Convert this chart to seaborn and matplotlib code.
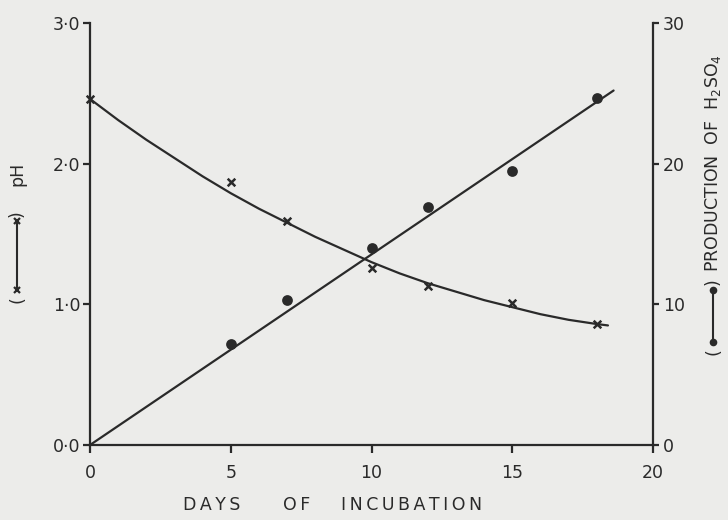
import matplotlib
matplotlib.use("Agg")
import matplotlib.pyplot as plt
import seaborn as sns
import pandas as pd
from matplotlib.lines import Line2D

# Measured points
days_ph = [0, 5, 7, 10, 12, 15, 18]
ph_values = [2.46, 1.87, 1.59, 1.26, 1.13, 1.01, 0.86]
days_acid = [5, 7, 10, 12, 15, 18]
acid_values = [7.2, 10.3, 14.0, 16.9, 19.5, 24.7]

# Hand-drawn trend lines
curve_days_ph = [0, 1, 2, 3, 4, 5, 6, 7, 8, 9, 10, 11, 12, 13, 14, 15,
                 16, 17, 18, 18.4]
curve_ph = [2.46, 2.31, 2.17, 2.04, 1.91, 1.79, 1.68, 1.58, 1.48, 1.39,
            1.30, 1.22, 1.15, 1.09, 1.03, 0.98, 0.93, 0.89, 0.86, 0.85]
line_days_acid = [0, 18.6]
line_acid = [0, 25.2]

# Axis ticks
x_ticks = [0, 5, 10, 15, 20]
x_tick_labels = ["0", "5", "10", "15", "20"]
ph_ticks = [0, 1, 2, 3]
ph_tick_labels = ["0·0", "1·0", "2·0", "3·0"]
acid_ticks = [0, 10, 20, 30]
acid_tick_labels = ["0", "10", "20", "30"]

INK = "#2a2a2a"
PAPER = "#ececea"
W, H = 728, 520

sns.set_theme(style="ticks")
plt.rcParams["font.family"] = ["DejaVu Sans"]
plt.rcParams["text.color"] = INK
plt.rcParams["axes.edgecolor"] = INK
plt.rcParams["xtick.color"] = INK
plt.rcParams["ytick.color"] = INK


def fx(px):
    return px / W


def fy(py):
    return 1 - py / H


fig = plt.figure(figsize=(W / 100, H / 100), dpi=100, facecolor=PAPER)
left, right, top, bottom = 90, 653, 23, 445
ax = fig.add_axes([fx(left), fy(bottom), (right - left) / W, (bottom - top) / H])
ax.set_facecolor(PAPER)
ax2 = ax.twinx()
ax2.patch.set_visible(False)

ph_curve = pd.DataFrame({"day": curve_days_ph, "ph": curve_ph})
ph_pts = pd.DataFrame({"day": days_ph, "ph": ph_values})
acid_line = pd.DataFrame({"day": line_days_acid, "acid": line_acid})
acid_pts = pd.DataFrame({"day": days_acid, "acid": acid_values})

sns.lineplot(data=ph_curve, x="day", y="ph", ax=ax, color=INK, lw=1.6,
             sort=False, estimator=None)
sns.scatterplot(data=ph_pts, x="day", y="ph", ax=ax, marker="x", s=30,
                color=INK, linewidth=1.8, clip_on=False, zorder=4)
sns.lineplot(data=acid_line, x="day", y="acid", ax=ax2, color=INK, lw=1.6,
             sort=False, estimator=None)
sns.scatterplot(data=acid_pts, x="day", y="acid", ax=ax2, marker="o", s=60,
                color=INK, edgecolor=INK, linewidth=0, zorder=4)

ax.set_xlim(0, 20)
ax.set_ylim(0, 3)
ax2.set_ylim(0, 30)

ax.set_xticks(x_ticks)
ax.set_xticklabels(x_tick_labels)
ax.set_yticks(ph_ticks)
ax.set_yticklabels(ph_tick_labels)
ax2.set_yticks(acid_ticks)
ax2.set_yticklabels(acid_tick_labels)

ax.set_xlabel("")
ax.set_ylabel("")
ax2.set_ylabel("")

for a in (ax, ax2):
    for s in a.spines.values():
        s.set_linewidth(1.6)
        s.set_color(INK)
    a.spines["top"].set_visible(False)
ax.spines["right"].set_visible(False)
ax2.spines["left"].set_visible(False)
ax2.spines["bottom"].set_visible(False)

ax.tick_params(axis="x", direction="out", length=6, width=1.6, pad=8,
               labelsize=12.5)
ax.tick_params(axis="y", direction="out", length=5, width=1.6, pad=2,
               labelsize=12.5)
ax2.tick_params(axis="y", direction="out", length=4, width=1.6, pad=3,
                labelsize=12.5)

# x-axis title, letter-spaced words
ts = "\u2009"
fig.text(fx(212), fy(505), ts.join("DAYS"), ha="center", va="center",
         fontsize=12.5)
fig.text(fx(297), fy(505), ts.join("OF"), ha="center", va="center",
         fontsize=12.5)
fig.text(fx(412), fy(505), ts.join("INCUBATION"), ha="center", va="center",
         fontsize=12.5)

# left axis title with its key symbol
lx = 17
fig.text(fx(lx), fy(300), "(", rotation=90, ha="center", va="center",
         fontsize=12.5)
fig.text(fx(lx), fy(214), ")", rotation=90, ha="center", va="center",
         fontsize=12.5)
fig.add_artist(Line2D([fx(lx), fx(lx)], [fy(290), fy(221)],
                      transform=fig.transFigure, color=INK, lw=1.5,
                      marker="x", markersize=4.5, mew=1.6))
fig.text(fx(lx), fy(174), "pH", rotation=90, ha="center", va="center",
         fontsize=12.5)

# right axis title with its key symbol
rx = 713
fig.text(fx(rx), fy(352), "(", rotation=90, ha="center", va="center",
         fontsize=12.5)
fig.add_artist(Line2D([fx(rx), fx(rx)], [fy(342), fy(290)],
                      transform=fig.transFigure, color=INK, lw=1.5,
                      marker="o", markersize=5.5, mew=0))
fig.text(fx(rx), fy(282), ")", rotation=90, ha="center", va="center",
         fontsize=12.5)
fig.text(fx(rx), fy(272), "PRODUCTION  OF  H$_2$SO$_4$", rotation=90,
         rotation_mode="anchor", ha="left", va="center", fontsize=12.5)

fig.savefig("out.png", dpi=100, facecolor=PAPER)
